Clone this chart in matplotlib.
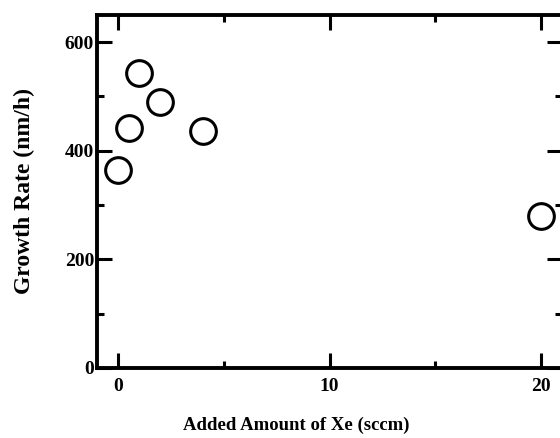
import matplotlib.pyplot as plt

xe_flow = [0, 0.5, 1, 2, 4, 20]
growth_rate = [364, 441, 543, 490, 436, 279]

plt.rcParams['font.family'] = ['Liberation Serif', 'DejaVu Serif']
plt.rcParams['font.weight'] = 'bold'

fig = plt.figure(figsize=(5.6, 4.38), dpi=100)
ax = fig.add_axes([0.173, 0.160, 0.831, 0.806])

ax.plot(xe_flow, growth_rate, 'o', markersize=18.5, markerfacecolor='white',
        markeredgecolor='black', markeredgewidth=2.2, clip_on=False)

ax.set_xlim(-1, 21)
ax.set_ylim(0, 650)
ax.set_xticks([0, 10, 20])
ax.set_xticks([5, 15], minor=True)
ax.set_yticks([0, 200, 400, 600])
ax.set_yticks([100, 300, 500], minor=True)

for s in ax.spines.values():
    s.set_linewidth(2.8)

ax.tick_params(which='both', direction='in', top=True, right=True, width=2.2)
ax.tick_params(which='major', length=11, labelsize=14)
ax.tick_params(which='minor', length=5)
ax.tick_params(axis='x', which='major', pad=7)
ax.tick_params(axis='y', which='major', pad=2)

ax.set_xlabel('Added Amount of Xe (sccm)', fontsize=13.5, fontweight='bold', va='center')
ax.set_ylabel('Growth Rate (nm/h)', fontsize=17, fontweight='bold', va='center')
ax.xaxis.set_label_coords(0.429, -0.164)
ax.yaxis.set_label_coords(-0.155, 0.5)

fig.savefig('out.png', dpi=100)
